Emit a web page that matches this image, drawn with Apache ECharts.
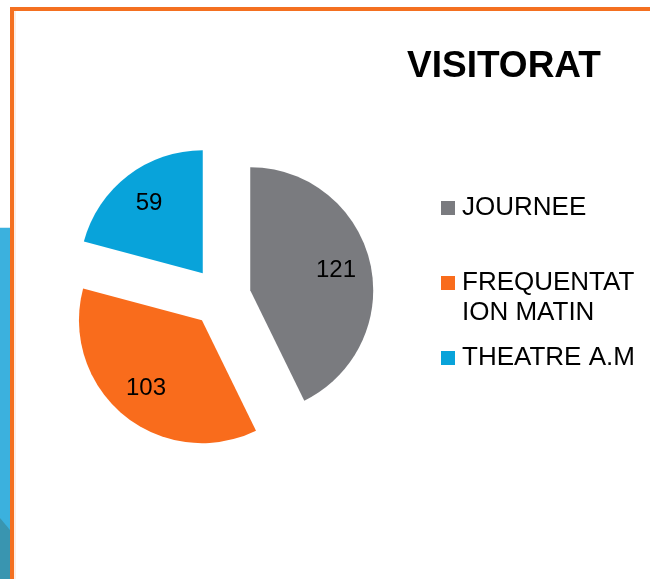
<!DOCTYPE html>
<html>
<head>
<meta charset="utf-8">
<script src="https://cdn.jsdelivr.net/npm/echarts@6/dist/echarts.min.js"></script>
<style>
html, body { margin: 0; padding: 0; background: #ffffff; }
#chart { width: 650px; height: 579px; }
</style>
</head>
<body>
<div id="chart"></div>
<script>
var categories = ['JOURNEE', 'FREQUENTATION MATIN', 'THEATRE A.M'];
// legend text as wrapped in the original; the leading blank line keeps the icon on the first line
var legendLabels = ['JOURNEE', ' \nFREQUENTAT\nION MATIN', 'THEATRE A.M'];
var values = [121, 103, 59];
var colors = ['#7a7b7f', '#f96c1c', '#08a3da'];

var font = "'Liberation Sans', Arial, sans-serif";

var pieData = [];
var labelData = [];
for (var i = 0; i < categories.length; i++) {
    pieData.push({ name: categories[i], value: values[i], selected: true, itemStyle: { color: colors[i] } });
    labelData.push({ name: categories[i], value: values[i], selected: true });
}

var chart = echarts.init(document.getElementById('chart'));
chart.setOption({
    animation: false,
    backgroundColor: '#ffffff',
    title: {
        text: 'VISITORAT',
        left: 407,
        top: 48,
        padding: 0,
        textStyle: { fontFamily: font, fontSize: 37, fontWeight: 'bold', color: '#000000' }
    },
    legend: {
        orient: 'vertical',
        left: 441,
        top: 193,
        padding: 0,
        itemGap: 15,
        itemWidth: 14,
        itemHeight: 14,
        icon: 'rect',
        selectedMode: false,
        data: categories,
        formatter: function (name) {
            return legendLabels[categories.indexOf(name)];
        },
        textStyle: { fontFamily: font, fontSize: 26, lineHeight: 30, color: '#000000', padding: [0, 0, 0, 2] }
    },
    graphic: [
        { type: 'rect', shape: { x: 0, y: 228, width: 10, height: 351 }, style: { fill: '#3bb1de' } },
        { type: 'rect', shape: { x: 0, y: 227, width: 10, height: 1 }, style: { fill: '#cfeaf5' } },
        { type: 'polygon', shape: { points: [[0, 518], [10, 530], [10, 579], [0, 579]] }, style: { fill: '#3995b0' } },
        { type: 'rect', shape: { x: 14, y: 11, width: 2, height: 568 }, style: { fill: '#fdeee4' } },
        { type: 'rect', shape: { x: 10, y: 7, width: 640, height: 4 }, style: { fill: '#f47020' } },
        { type: 'rect', shape: { x: 10, y: 7, width: 4, height: 572 }, style: { fill: '#f47020' } }
    ],
    series: [
        {
            type: 'pie',
            center: [221, 297],
            radius: 123,
            startAngle: 90,
            selectedMode: 'multiple',
            selectedOffset: 30,
            label: { show: false },
            labelLine: { show: false },
            emphasis: { disabled: true },
            data: pieData
        },
        {
            // transparent twin, only carries the value labels a bit further out
            type: 'pie',
            center: [221, 297],
            radius: 170,
            startAngle: 90,
            silent: true,
            selectedMode: 'multiple',
            selectedOffset: 30,
            itemStyle: { color: 'rgba(0,0,0,0)' },
            label: {
                show: true,
                position: 'inside',
                formatter: '{c}',
                fontFamily: font,
                fontSize: 24,
                color: '#000000'
            },
            labelLine: { show: false },
            emphasis: { disabled: true },
            data: labelData
        }
    ]
});
</script>
</body>
</html>
